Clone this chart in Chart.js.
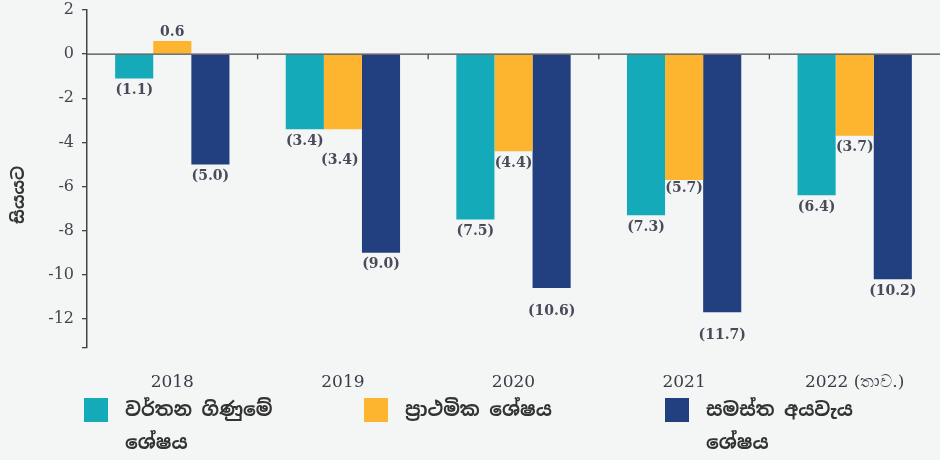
<!DOCTYPE html>
<html>
<head>
<meta charset="utf-8">
<script src="https://cdn.jsdelivr.net/npm/chart.js@4"></script>
<style>
  html, body { margin: 0; padding: 0; background: #f3f6f5; }
  #wrap { position: relative; width: 940px; height: 460px; overflow: hidden; }
  canvas { position: absolute; left: 0; top: 0; }
  .key { position: absolute; top: 393px; display: flex; align-items: flex-start; }
  .swatch { width: 24px; height: 24px; margin-top: 5px; flex: none; }
  .key span {
    margin-left: 17px;
    font-family: 'Noto Sans Sinhala', 'Noto Serif Sinhala', 'Iskoola Pota', 'Noto Sans', sans-serif;
    font-size: 19px; font-weight: bold; line-height: 33px; color: #333;
    white-space: nowrap;
  }
</style>
</head>
<body>
<div id="wrap">
  <canvas id="c" width="940" height="460"></canvas>
  <div class="key" style="left:84px"><div class="swatch" style="background:#15aab9"></div><span>වර්තන ගිණුමේ<br>ශේෂය</span></div>
  <div class="key" style="left:364px"><div class="swatch" style="background:#fdb52f"></div><span>ප්‍රාථමික ශේෂය</span></div>
  <div class="key" style="left:665px"><div class="swatch" style="background:#223f80"></div><span>සමස්ත අයවැය<br>ශේෂය</span></div>
</div>
<script>
// Budget balances as a percentage of GDP
const years = ['2018', '2019', '2020', '2021', '2022 (තාව.)'];
const currentAccountBalance = [-1.1, -3.4, -7.5, -7.3, -6.4];
const primaryBalance = [0.6, -3.4, -4.4, -5.7, -3.7];
const overallBudgetBalance = [-5.0, -9.0, -10.6, -11.7, -10.2];
const yTicks = [2, 0, -2, -4, -6, -8, -10, -12];

// extra vertical room for a few value labels that would otherwise collide
const labelNudge = { '1-1': { dx: -3, dy: 19 }, '2-2': { dy: 11 }, '2-3': { dy: 11 }, '1-3': { dy: -4 } };

const serif = "'DejaVu Serif', 'Liberation Serif', serif";
const inkColor = '#3b3b48';

const zeroLine = {
  id: 'zeroLine',
  afterDatasetsDraw(chart) {
    const { ctx, chartArea, scales: { x, y } } = chart;
    const y0 = y.getPixelForValue(0);
    ctx.save();
    ctx.strokeStyle = '#4a4a4a';
    ctx.lineWidth = 1.3;
    ctx.beginPath();
    ctx.moveTo(chartArea.left, y0);
    ctx.lineTo(chartArea.right, y0);
    for (let i = 1; i < years.length; i++) {
      const bx = (x.getPixelForValue(i - 1) + x.getPixelForValue(i)) / 2;
      ctx.moveTo(bx, y0);
      ctx.lineTo(bx, y0 + 5);
    }
    ctx.stroke();
    ctx.restore();
  }
};

const valueLabels = {
  id: 'valueLabels',
  afterDatasetsDraw(chart) {
    const { ctx } = chart;
    ctx.save();
    ctx.font = 'bold 14px ' + serif;
    ctx.fillStyle = '#4a4a5a';
    ctx.textAlign = 'center';
    ctx.textBaseline = 'middle';
    chart.data.datasets.forEach((ds, di) => {
      const meta = chart.getDatasetMeta(di);
      meta.data.forEach((bar, i) => {
        const v = ds.data[i];
        const n = labelNudge[di + '-' + i] || {};
        const text = v < 0 ? '(' + Math.abs(v).toFixed(1) + ')' : v.toFixed(1);
        const ty = v < 0 ? bar.y + 12 + (n.dy || 0) : bar.y - 9;
        ctx.fillText(text, bar.x + (n.dx || 0), ty);
      });
    });
    ctx.restore();
  }
};

const yTitle = {
  id: 'yTitle',
  afterDraw(chart) {
    const { ctx } = chart;
    ctx.save();
    ctx.translate(19, 195);
    ctx.rotate(-Math.PI / 2);
    ctx.font = "bold 17px 'Noto Sans Sinhala', 'Noto Serif Sinhala', 'Noto Sans', sans-serif";
    ctx.fillStyle = '#333';
    ctx.textAlign = 'center';
    ctx.textBaseline = 'middle';
    ctx.fillText('සියයට', 0, 0);
    ctx.restore();
  }
};

new Chart(document.getElementById('c'), {
  type: 'bar',
  data: {
    labels: years,
    datasets: [
      { label: 'වර්තන ගිණුමේ ශේෂය', data: currentAccountBalance, backgroundColor: '#15aab9' },
      { label: 'ප්‍රාථමික ශේෂය', data: primaryBalance, backgroundColor: '#fdb52f' },
      { label: 'සමස්ත අයවැය ශේෂය', data: overallBudgetBalance, backgroundColor: '#223f80' }
    ]
  },
  options: {
    responsive: false,
    animation: false,
    layout: { padding: { top: 0, right: 0, bottom: 42, left: 0 } },
    datasets: { bar: { categoryPercentage: 0.67, barPercentage: 1.0 } },
    plugins: { legend: { display: false }, tooltip: { enabled: false } },
    scales: {
      x: {
        grid: { display: false, drawTicks: false },
        border: { display: false },
        ticks: { padding: 25, color: inkColor, font: { family: serif, size: 17 } }
      },
      y: {
        min: -13.3,
        max: 2,
        afterFit(scale) { scale.width = 87; scale.paddingTop = 10; },
        afterBuildTicks(scale) {
          const bottom = scale.ticks.find(t => !yTicks.includes(t.value));
          scale.ticks = yTicks.map(v => ({ value: v })).concat(bottom ? [bottom] : []);
        },
        ticks: {
          padding: 8,
          color: '#45454f',
          font: { family: serif, size: 16, lineHeight: 1 },
          callback: v => (yTicks.includes(v) ? String(v) : '')
        },
        grid: { display: true, drawOnChartArea: false, drawTicks: true, tickLength: 5, color: '#444', lineWidth: 1.3 },
        border: { display: true, color: '#444', width: 1.5 }
      }
    }
  },
  plugins: [zeroLine, valueLabels, yTitle]
});
</script>
</body>
</html>
